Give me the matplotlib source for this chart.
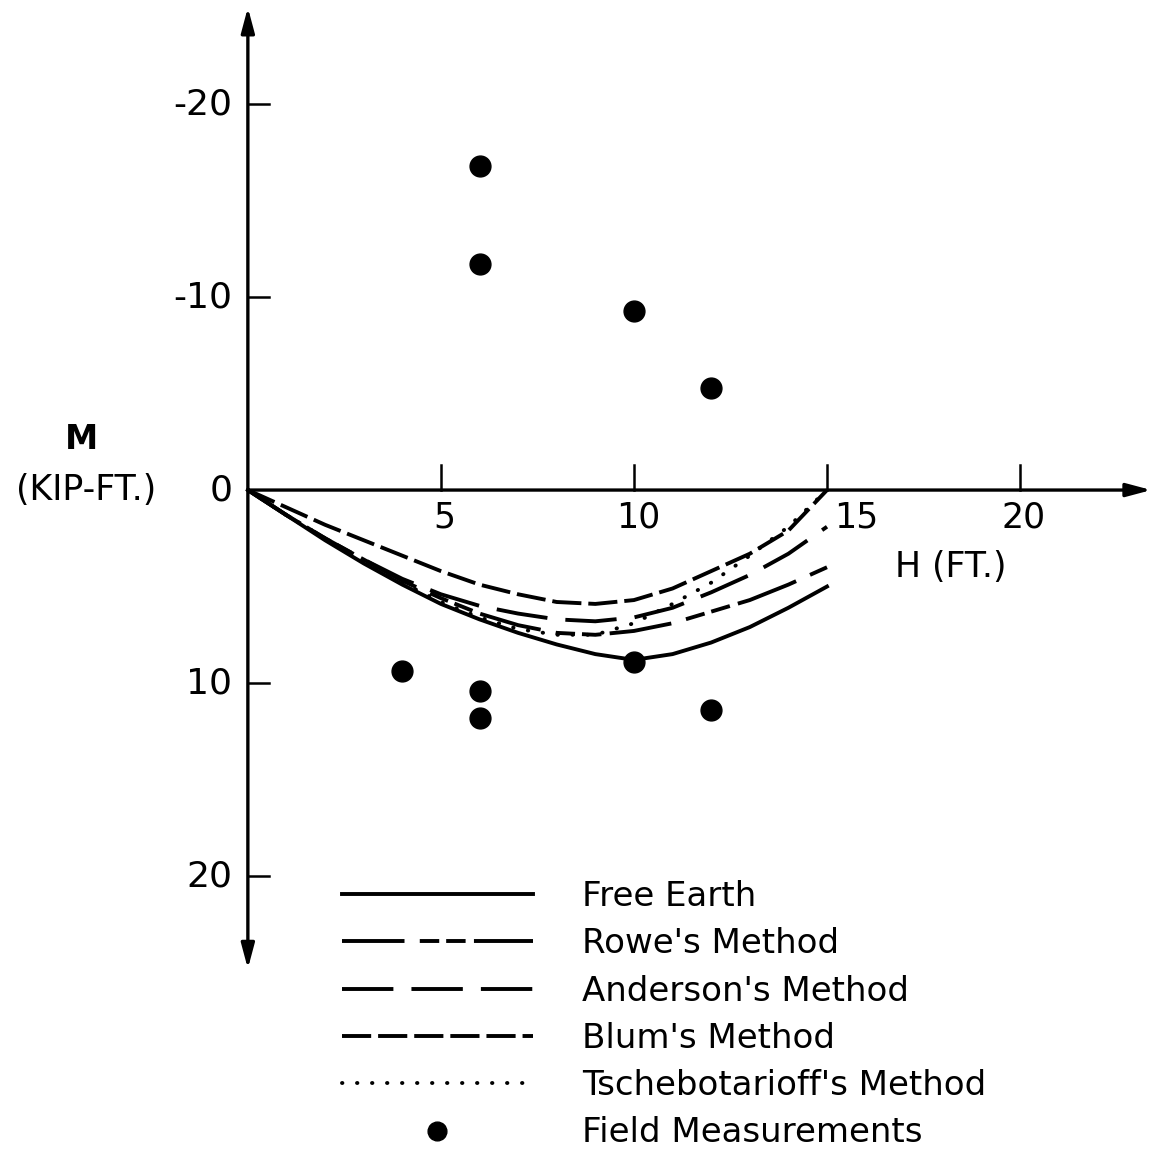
import matplotlib
matplotlib.use("Agg")
import matplotlib.pyplot as plt

plt.rcParams["font.family"] = ["DejaVu Sans"]
plt.rcParams["lines.scale_dashes"] = False

# Bending moment vs. depth
depth_ft = [0, 1, 2, 3, 4, 5, 6, 7, 8, 9, 10, 11, 12, 13, 14, 15]
free_earth = [0, 1.3, 2.6, 3.8, 4.9, 5.9, 6.7, 7.4, 8.0, 8.5, 8.8, 8.5, 7.9, 7.1, 6.1, 5.0]
rowe = [0, 1.3, 2.5, 3.6, 4.7, 5.6, 6.4, 7.0, 7.4, 7.5, 7.3, 6.9, 6.3, 5.7, 4.9, 4.0]
anderson = [0, 1.3, 2.5, 3.6, 4.6, 5.4, 6.0, 6.4, 6.7, 6.8, 6.6, 6.1, 5.3, 4.4, 3.3, 1.9]
blum = [0, 0.9, 1.8, 2.6, 3.4, 4.2, 4.9, 5.4, 5.8, 5.9, 5.7, 5.1, 4.2, 3.3, 2.1, 0]
tscheb = [0, 1.3, 2.5, 3.7, 4.8, 5.8, 6.6, 7.2, 7.5, 7.5, 6.9, 5.9, 4.8, 3.4, 1.9, 0]

field_h = [6, 6, 10, 12, 4, 6, 6, 10, 12]
field_m = [-16.8, -11.7, -9.3, -5.3, 9.4, 10.4, 11.8, 8.9, 11.4]

xticks = [5, 10, 15, 20]
yticks = [-20, -10, 0, 10, 20]

fig = plt.figure(figsize=(11.54, 11.54), dpi=100)
ax = fig.add_axes([0, 0, 1, 1])
ax.set_xlim(-6.42, 23.47)
ax.set_ylim(34.4, -25.39)
ax.axis("off")

lw = 2.8
ax.plot(depth_ft, free_earth, color="black", lw=lw, label="Free Earth")
ax.plot(depth_ft, rowe, color="black", lw=lw, dashes=(45, 11, 14, 5, 14, 6),
        label="Rowe's Method")
ax.plot(depth_ft, anderson, color="black", lw=lw, dashes=(37, 13),
        label="Anderson's Method")
ax.plot(depth_ft, blum, color="black", lw=lw, dashes=(21, 5),
        label="Blum's Method")
ax.plot(depth_ft, tscheb, color="black", lw=lw, dashes=(0.3, 10.5),
        dash_capstyle="round", label="Tschebotarioff's Method")
ax.plot(field_h, field_m, "o", color="black", ms=15, label="Field Measurements")

# axes with arrow heads
arrow = dict(arrowstyle="-|>,head_length=1.5,head_width=0.4", lw=2.4,
             color="black", shrinkA=0, shrinkB=0)
ax.annotate("", xy=(0, -25.0), xytext=(0, 0), arrowprops=arrow)
ax.annotate("", xy=(0, 24.8), xytext=(0, 0), arrowprops=arrow)
ax.annotate("", xy=(23.4, 0), xytext=(0, 0), arrowprops=arrow)

for x in xticks:
    ax.plot([x, x], [0, -1.3], color="black", lw=1.8)
    ax.text(x + (0.75 if x == 15 else 0.1), 1.4, str(x), fontsize=25,
            ha="center", va="center")
for y in yticks:
    if y != 0:
        ax.plot([0, 0.55], [y, y], color="black", lw=1.8)
    ax.text(-0.4, y, str(y), fontsize=26, ha="right", va="center")

ax.text(-4.3, -2.6, "M", fontsize=24, fontweight="bold", ha="center", va="center")
ax.text(-4.2, 0.0, "(KIP-FT.)", fontsize=25, ha="center", va="center")
ax.text(18.2, 4.0, "H (FT.)", fontsize=25, ha="center", va="center")

ax.legend(loc="upper left", bbox_to_anchor=(342 / 1154, 1 - 880 / 1154),
          bbox_transform=fig.transFigure, frameon=False, fontsize=24.5,
          handlelength=5.6, handletextpad=1.45, labelspacing=0.42,
          borderpad=0, borderaxespad=0, markerscale=0.9)

fig.savefig("out.png", dpi=100)
